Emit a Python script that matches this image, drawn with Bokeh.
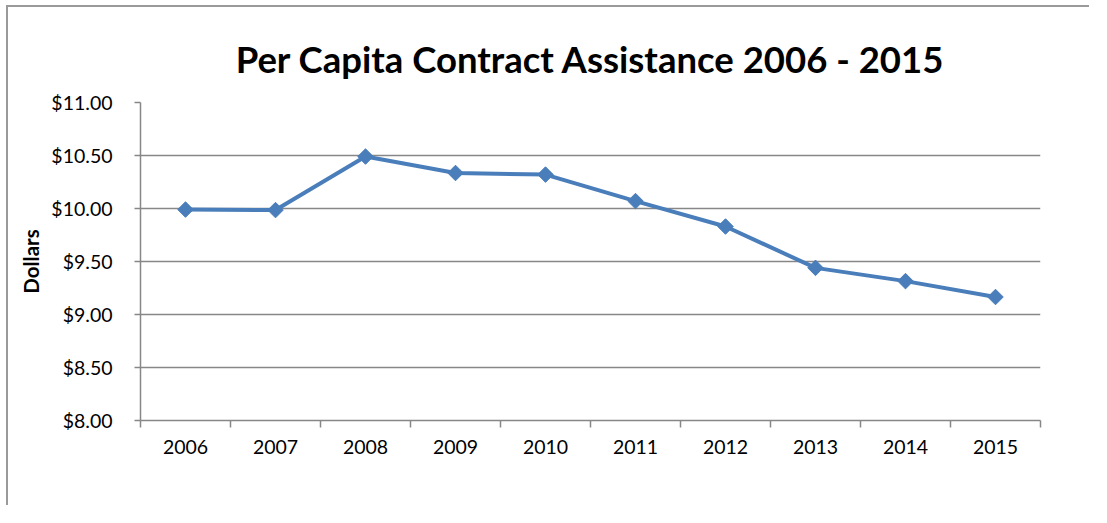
import numpy as np
from bokeh.plotting import figure
from bokeh.models import ColumnDataSource, FixedTicker, NumeralTickFormatter, Range1d
from bokeh.embed import file_html
from bokeh.resources import INLINE

years = ["2006", "2007", "2008", "2009", "2010", "2011", "2012", "2013", "2014", "2015"]
dollars = [9.99, 9.985, 10.49, 10.335, 10.32, 10.07, 9.83, 9.44, 9.315, 9.165]
y_ticks = [8.0, 8.5, 9.0, 9.5, 10.0, 10.5, 11.0]
title_text = "Per Capita Contract Assistance 2006 - 2015"
y_label = "Dollars"

xpos = np.arange(len(years)) + 0.5
src = ColumnDataSource(dict(x=xpos, y=dollars, year=years))

FONT = "Lato"
GRAY = "#878787"
BLUE = "#4A7EBB"

p = figure(width=1083, height=500, output_backend="svg", toolbar_location=None,
           x_range=Range1d(0, len(years)), y_range=Range1d(8.0, 11.0),
           min_border_left=132, min_border_right=51, min_border_top=95, min_border_bottom=87)
p.styles = {"border-left": "2px solid #9a9a9a", "border-top": "2px solid #9a9a9a",
            "margin-left": "6px", "margin-top": "5px"}

p.title.text = title_text
p.title.align = "center"
p.title.text_font = FONT
p.title.text_font_style = "bold"
p.title.text_font_size = "36.5px"
p.title.text_color = "#000000"
p.title.standoff = 44

p.outline_line_color = None
p.background_fill_color = "white"
p.border_fill_color = "white"

p.line("x", "y", source=src, line_color=BLUE, line_width=4)
p.scatter("x", "y", source=src, marker="square", size=11, angle=np.pi / 4,
          fill_color=BLUE, line_color=BLUE)

# x axis
p.xaxis.ticker = FixedTicker(ticks=list(xpos), minor_ticks=list(range(len(years) + 1)))
p.xaxis.major_label_overrides = {float(x): yr for x, yr in zip(xpos, years)}
p.xaxis.major_tick_line_color = None
p.xaxis.minor_tick_line_color = GRAY
p.xaxis.minor_tick_line_width = 1.5
p.xaxis.minor_tick_in = 0
p.xaxis.minor_tick_out = 7
p.xaxis.axis_line_color = GRAY
p.xaxis.axis_line_width = 1.5
p.xaxis.major_label_text_font = FONT
p.xaxis.major_label_text_font_size = "19.5px"
p.xaxis.major_label_text_color = "#000000"
p.xaxis.major_label_standoff = 12
p.xgrid.grid_line_color = None

# y axis
p.yaxis.ticker = FixedTicker(ticks=y_ticks)
p.yaxis.formatter = NumeralTickFormatter(format="$0.00")
p.yaxis.major_tick_line_color = GRAY
p.yaxis.major_tick_line_width = 1.5
p.yaxis.major_tick_in = 0
p.yaxis.major_tick_out = 6
p.yaxis.minor_tick_line_color = None
p.yaxis.axis_line_color = GRAY
p.yaxis.axis_line_width = 1.5
p.yaxis.major_label_text_font = FONT
p.yaxis.major_label_text_font_size = "19.5px"
p.yaxis.major_label_text_color = "#000000"
p.yaxis.major_label_standoff = 22
p.yaxis.axis_label = y_label
p.yaxis.axis_label_text_font = FONT
p.yaxis.axis_label_text_font_style = "bold"
p.yaxis.axis_label_text_font_size = "20.5px"
p.yaxis.axis_label_text_color = "#000000"
p.yaxis.axis_label_standoff = 5
p.ygrid.grid_line_color = GRAY
p.ygrid.grid_line_width = 1.5

open("out.html", "w").write(file_html(p, INLINE))
